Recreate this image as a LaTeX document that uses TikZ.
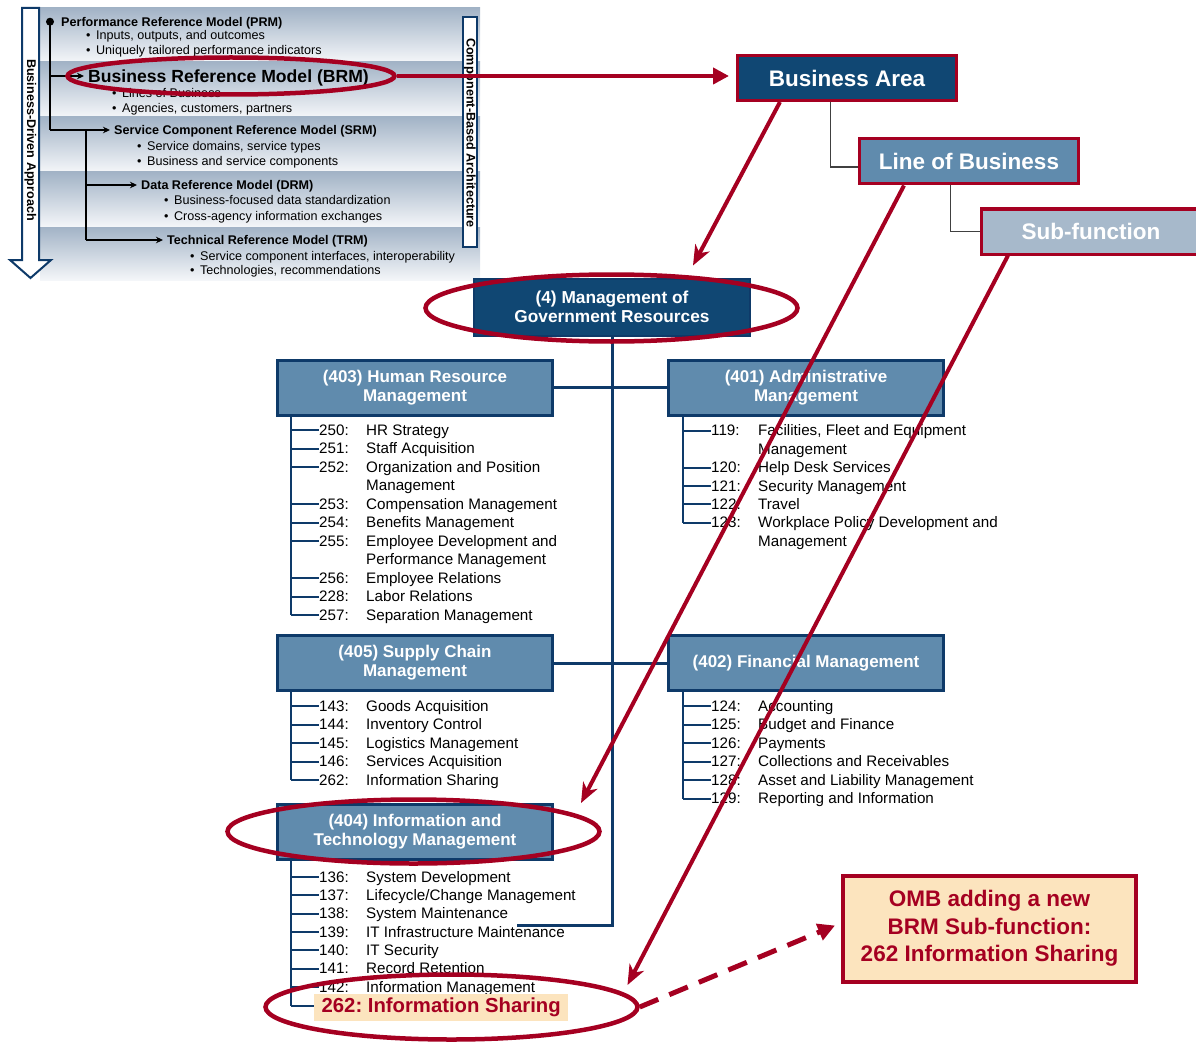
\documentclass[tikz,border=0pt]{standalone}
\usepackage{fontspec}
\setmainfont{Liberation Sans}
\usetikzlibrary{arrows.meta,shapes.geometric}
\definecolor{brmred}{RGB}{165,0,33}
\definecolor{darkblue}{RGB}{16,71,115}
\definecolor{midblue}{RGB}{96,139,173}
\definecolor{lightblue}{RGB}{167,185,203}
\definecolor{edgeblue}{RGB}{14,58,105}
\definecolor{bandtop}{RGB}{162,179,198}
\definecolor{bandbot}{RGB}{244,246,249}
\definecolor{peach}{RGB}{252,228,190}
\newcommand{\litem}[5]{%
  \node[numtxt] (#1) at (#2+28,#3) {#4};
  \node[numtxt] (#1t) at (#2+75,#3) {#5};
  \draw[listline] (#2,#3) -- (#1.west);
}
\frenchspacing
\begin{document}
\begin{tikzpicture}[x=1pt,y=-1pt,
  catbox/.style={draw=edgeblue,line width=3pt,fill=midblue,text=white,font=\bfseries\fontsize{17}{19}\selectfont,align=center,minimum width=275pt,minimum height=55pt,inner sep=0pt},
  topbox/.style={draw=brmred,line width=3pt,text=white,font=\bfseries\fontsize{22.5}{26}\selectfont,minimum width=219pt,minimum height=45pt,inner sep=0pt},
  numtxt/.style={anchor=west,inner sep=0pt,text height=10.7pt,text depth=0pt,font=\fontsize{15.2}{18}\selectfont},
  listline/.style={draw=edgeblue,line width=2pt},
  trunk/.style={draw=edgeblue,line width=3pt},
  feahead/.style={anchor=west,inner sep=0pt,text height=9pt,text depth=0pt,font=\bfseries\fontsize{12.6}{15}\selectfont},
  feabul/.style={anchor=west,inner sep=0pt,text height=9pt,text depth=0pt,font=\fontsize{12.6}{15}\selectfont},
  fealine/.style={draw=black,line width=1.6pt},
  feaarrow/.style={fealine,-{Stealth[length=7pt,width=6.5pt]},shorten >=4pt},
  redell/.style={ellipse,draw=brmred,line width=4.5pt,inner sep=0pt},
  redarrow/.style={draw=brmred,line width=4pt,-{Stealth[length=20pt,width=16pt,inset=6pt]}},
  grayconn/.style={draw=black!75,line width=1.8pt},
]
\useasboundingbox (0,0) rectangle (1196,1043);
% ---------- FEA panel ----------
\shade[top color=bandtop,bottom color=bandbot] (40,8) rectangle (480,62);
\shade[top color=bandtop,bottom color=bandbot] (40,62) rectangle (480,117);
\shade[top color=bandtop,bottom color=bandbot] (40,117) rectangle (480,172);
\shade[top color=bandtop,bottom color=bandbot] (40,172) rectangle (480,227);
\shade[top color=bandtop,bottom color=bandbot] (40,227) rectangle (480,280);

\node[feahead] (prm) at (61,21.7) {Performance Reference Model (PRM)};
\node[feabul] (b1) at (86,35.5) {•\hspace{5.5pt}Inputs, outputs, and outcomes};
\node[feabul] (b2) at (86,50.5) {•\hspace{5.5pt}Uniquely tailored performance indicators};
\node[anchor=west,inner sep=0pt,text height=12.5pt,text depth=0pt,font=\bfseries\fontsize{17.6}{20}\selectfont] (brm) at (88,76) {Business Reference Model (BRM)};
\node[feabul] (b3) at (112,93) {•\hspace{5.5pt}Lines of Business};
\node[feabul] (b4) at (112,108) {•\hspace{5.5pt}Agencies, customers, partners};
\node[feahead] (srm) at (114,130) {Service Component Reference Model (SRM)};
\node[feabul] (b5) at (137,146) {•\hspace{5.5pt}Service domains, service types};
\node[feabul] (b6) at (137,161) {•\hspace{5.5pt}Business and service components};
\node[feahead] (drm) at (141,185) {Data Reference Model (DRM)};
\node[feabul] (b7) at (164,200) {•\hspace{5.5pt}Business-focused data standardization};
\node[feabul] (b8) at (164,216) {•\hspace{5.5pt}Cross-agency information exchanges};
\node[feahead] (trm) at (167,240) {Technical Reference Model (TRM)};
\node[feabul] (b9) at (190,256) {•\hspace{5.5pt}Service component interfaces, interoperability};
\node[feabul] (b10) at (190,270) {•\hspace{5.5pt}Technologies, recommendations};

\node[circle,fill=black,inner sep=0pt,minimum size=8pt] (dot) at (50,21.7) {};
\coordinate (j1) at (50,76);
\coordinate (j2) at (50,130);
\coordinate (j3) at (86,130);
\coordinate (j4) at (86,185);
\coordinate (j5) at (86,240);
\draw[fealine] (dot.center) -- (j2);
\draw[feaarrow] (j1) -- (j1 -| brm.west);
\draw[feaarrow] (j2) -- (j2 -| srm.west);
\draw[fealine] (j3) -- (j5);
\draw[feaarrow] (j4) -- (j4 -| drm.west);
\draw[feaarrow] (j5) -- (j5 -| trm.west);

\draw[edgeblue,line width=2pt,fill=white] (22,8) -- (39,8) -- (39,260) -- (51,260) -- (30.5,278) -- (10,260) -- (22,260) -- cycle;
\node[rotate=-90,inner sep=0pt,font=\bfseries\fontsize{12.6}{15}\selectfont] (bda) at (30.5,140) {Business-Driven Approach};
\draw[edgeblue,line width=2pt,fill=white] (463,17) rectangle (477,247);
\node[rotate=-90,inner sep=0pt,font=\bfseries\fontsize{12.6}{15}\selectfont] (cba) at (470,133) {Component-Based Architecture};

% ---------- BRM hierarchy (top right) ----------
\node[topbox,fill=darkblue] (ba) at (847,78) {Business Area};
\node[topbox,fill=midblue] (lob) at (969,161.5) {Line of Business};
\node[topbox,fill=lightblue] (sf) at (1091,231.5) {Sub-function};
\draw[grayconn] ([xshift=94.5pt]ba.south west) |- ([yshift=-5.5pt]lob.west);
\draw[grayconn] ([xshift=92.5pt]lob.south west) |- (sf.west);

% ---------- trunk ----------
\coordinate (tk) at (612,925);
\coordinate (tkend) at (517,925);
\node[draw=edgeblue,line width=2pt,fill=darkblue,text=white,font=\bfseries\fontsize{17.3}{19}\selectfont,align=center,minimum width=276pt,minimum height=57pt,inner sep=0pt] (box4) at (612,307) {(4) Management of\\Government Resources};
\draw[trunk] (box4.south) -- (tk) -- (tkend);

\node[catbox] (hr) at (415,387.5) {(403) Human Resource\\Management};
\node[catbox] (adm) at (806,387.5) {(401) Administrative\\Management};
\node[catbox] (sc) at (415,663) {(405) Supply Chain\\Management};
\node[catbox] (fin) at (806,663) {(402) Financial Management};
\node[catbox] (it) at (415,832) {(404) Information and\\Technology Management};
\draw[trunk] (hr.east) -- (adm.west);
\draw[trunk] (sc.east) -- (fin.west);

% ---------- lists ----------
\draw[listline] (291,416) -- (291,615);
\litem{n250}{291}{430}{250:}{HR Strategy}
\litem{n251}{291}{448.5}{251:}{Staff Acquisition}
\litem{n252}{291}{467}{252:}{Organization and Position}
\node[numtxt] (n252b) at (366,485.5) {Management};
\litem{n253}{291}{504}{253:}{Compensation Management}
\litem{n254}{291}{522.5}{254:}{Benefits Management}
\litem{n255}{291}{541}{255:}{Employee Development and}
\node[numtxt] (n255b) at (366,559.5) {Performance Management};
\litem{n256}{291}{578}{256:}{Employee Relations}
\litem{n228}{291}{596.5}{228:}{Labor Relations}
\litem{n257}{291}{615}{257:}{Separation Management}

\draw[listline] (683,416) -- (683,522.5);
\litem{n119}{683}{430.5}{119:}{Facilities, Fleet and Equipment}
\node[numtxt] (n119b) at (758,449) {Management};
\litem{n120}{683}{467.5}{120:}{Help Desk Services}
\litem{n121}{683}{486}{121:}{Security Management}
\litem{n122}{683}{504}{122:}{Travel}
\litem{n123}{683}{522.5}{123:}{Workplace Policy Development and}
\node[numtxt] (n123b) at (758,541) {Management};

\draw[listline] (291,692) -- (291,780);
\litem{n143}{291}{706}{143:}{Goods Acquisition}
\litem{n144}{291}{724.5}{144:}{Inventory Control}
\litem{n145}{291}{743}{145:}{Logistics Management}
\litem{n146}{291}{761.5}{146:}{Services Acquisition}
\litem{n262a}{291}{780}{262:}{Information Sharing}

\draw[listline] (683,692) -- (683,798.5);
\litem{n124}{683}{706}{124:}{Accounting}
\litem{n125}{683}{724.5}{125:}{Budget and Finance}
\litem{n126}{683}{743}{126:}{Payments}
\litem{n127}{683}{761.5}{127:}{Collections and Receivables}
\litem{n128}{683}{780}{128:}{Asset and Liability Management}
\litem{n129}{683}{798.5}{129:}{Reporting and Information}

\draw[listline] (291,861) -- (291,1006);
\litem{n136}{291}{877}{136:}{System Development}
\litem{n137}{291}{895}{137:}{Lifecycle/Change Management}
\litem{n138}{291}{913.5}{138:}{System Maintenance}
\litem{n139}{291}{932}{139:}{IT Infrastructure Maintenance}
\litem{n140}{291}{950}{140:}{IT Security}
\litem{n141}{291}{968.5}{141:}{Record Retention}
\litem{n142}{291}{987}{142:}{Information Management}
\node[fill=peach,text=brmred,font=\bfseries\fontsize{20.3}{24}\selectfont,minimum width=254pt,minimum height=27pt,inner sep=0pt,anchor=west] (hl) at (314,1007.5) {262: Information Sharing};
\coordinate (hlj) at (291,1006);
\draw[listline] (hlj) -- (hlj -| hl.west);

% ---------- OMB note ----------
\node[fill=peach,draw=brmred,line width=4pt,text=brmred,font=\bfseries\fontsize{22.5}{27.5}\selectfont,align=center,minimum width=293pt,minimum height=106pt,inner sep=0pt] (omb) at (989.5,928.5) {OMB adding a new\\BRM Sub-function:\\262 Information Sharing};

% ---------- red highlights ----------
\node[redell,minimum width=327pt,minimum height=37pt] (eBRM) at (231,76) {};
\node[redell,minimum width=372pt,minimum height=67pt] (e4) at (611.5,308) {};
\node[redell,minimum width=372pt,minimum height=64pt] (eIT) at (413.5,831.5) {};
\node[redell,minimum width=372pt,minimum height=65pt] (e262) at (451.5,1007) {};

\draw[draw=brmred,line width=4pt,-{Triangle[length=16pt,width=16pt]},shorten >=7pt] (eBRM.east) -- (eBRM.east -| ba.west);
\draw[redarrow] ([xshift=44pt]ba.south west) -- ([xshift=81pt,yshift=12pt]box4.north);
\draw[redarrow] ([xshift=46pt]lob.south west) -- ([xshift=27pt]it.north east);
\draw[redarrow] ([xshift=28pt]sf.south west) -- ([xshift=176pt,yshift=22pt]e262.center);
\draw[draw=brmred,line width=5pt,dash pattern=on 20pt off 12pt,-{Triangle[length=17pt,width=17pt]}] (e262.east) -- ([xshift=-6pt,yshift=3pt]omb.west);
\end{tikzpicture}
\end{document}
